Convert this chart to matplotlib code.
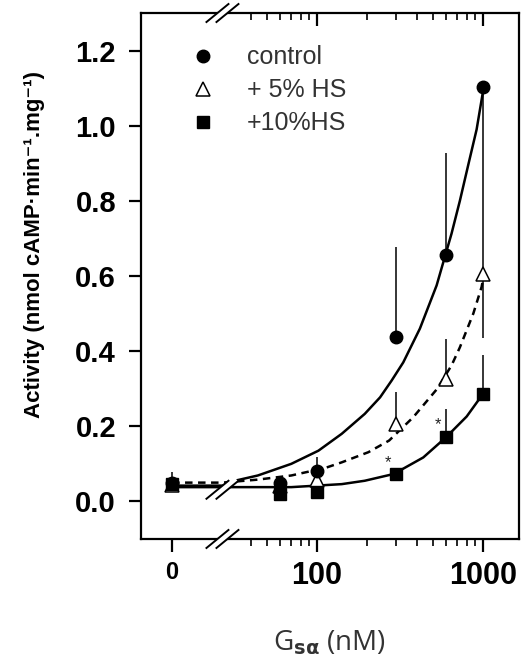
import numpy as np
import matplotlib.pyplot as plt
from matplotlib.lines import Line2D
from matplotlib.transforms import ScaledTranslation, blended_transform_factory

plt.rcParams['font.family'] = ['Liberation Sans', 'DejaVu Sans']

# measured points (Gs-alpha in nM)
conc = [0, 60, 100, 300, 600, 1000]
control = [0.05, 0.05, 0.082, 0.437, 0.657, 1.103]
control_up = [0.027, 0, 0.035, 0.24, 0.27, 0]
control_down = [0, 0, 0, 0, 0, 0.49]
hs5 = [0.045, 0.04, 0.058, 0.206, 0.326, 0.606]
hs5_up = [0, 0, 0, 0.085, 0.107, 0]
hs5_down = [0, 0, 0, 0, 0, 0.17]
hs10 = [0.047, 0.02, 0.024, 0.073, 0.171, 0.286]
hs10_up = [0, 0, 0, 0, 0.075, 0.103]

# fitted curves
fit_control_x = [0, 26, 32, 44, 70, 102, 141, 194, 240, 282, 331, 417, 526, 647, 726, 815, 916, 1000]
fit_control_y = [0.042, 0.042, 0.055, 0.069, 0.100, 0.135, 0.18, 0.233, 0.277, 0.322, 0.37, 0.46,
                 0.575, 0.713, 0.80, 0.895, 0.99, 1.09]
fit_hs5_x = [0, 26, 44, 70, 112, 141, 204, 272, 380, 526, 647, 726, 875, 982, 1000]
fit_hs5_y = [0.05, 0.05, 0.058, 0.069, 0.089, 0.104, 0.131, 0.162, 0.224, 0.298, 0.362, 0.41,
             0.50, 0.571, 0.59]
fit_hs10_x = [0, 26, 32, 70, 141, 194, 290, 437, 600, 798, 1000]
fit_hs10_y = [0.038, 0.038, 0.038, 0.038, 0.046, 0.055, 0.073, 0.117, 0.171, 0.226, 0.286]

# significance marks
star_x = [268, 536]
star_y = [0.103, 0.205]

xticks = [0, 100, 1000]
xtick_labels = ['0', '100', '1000']
xminor = [40, 50, 60, 70, 80, 90, 200, 300, 400, 500, 600, 700, 800, 900]
yticks = [0.0, 0.2, 0.4, 0.6, 0.8, 1.0, 1.2]

# broken x axis: linear from 0 to 30, log above
BRK = 30.0
U0 = 1.1265
SLOPE = (np.log10(BRK) - U0) / BRK


def fwd(x):
    x = np.asarray(x, dtype=float)
    lg = np.log10(np.clip(x, BRK, None))
    return np.where(x < BRK, U0 + x * SLOPE, lg)


def inv(u):
    u = np.asarray(u, dtype=float)
    return np.where(u < np.log10(BRK), (u - U0) / SLOPE, 10 ** np.clip(u, np.log10(BRK), None))


fig = plt.figure(figsize=(5.24, 6.61), dpi=100)
ax = fig.add_axes([0.2691, 0.1846, 0.7214, 0.7957])
ax.set_xscale('function', functions=(fwd, inv))
ax.set_xlim(-16, 1650)
ax.set_ylim(-0.1, 1.3)

lw_fit = 1.8
ax.plot(fit_control_x, fit_control_y, color='black', lw=lw_fit, zorder=2)
ax.plot(fit_hs5_x, fit_hs5_y, color='black', lw=lw_fit, dashes=(3, 2.2), zorder=2)
ax.plot(fit_hs10_x, fit_hs10_y, color='black', lw=lw_fit, zorder=2)

eb = dict(fmt='none', ecolor='black', elinewidth=1.1, capsize=0, zorder=1)
ax.errorbar(conc, control, yerr=[control_down, control_up], **eb)
ax.errorbar(conc, hs5, yerr=[hs5_down, hs5_up], **eb)
ax.errorbar(conc, hs10, yerr=[[0] * len(conc), hs10_up], **eb)

ms = 9
ax.plot(conc, hs5, '^', mfc='white', mec='black', mew=1.1, ms=ms + 1, zorder=3)
ax.plot(conc, hs10, 's', color='black', ms=ms - 0.5, zorder=4)
ax.plot(conc, control, 'o', color='black', ms=ms, zorder=5)

for sx, sy in zip(star_x, star_y):
    ax.text(sx, sy, '*', ha='center', va='center', fontsize=12, color='#222222')

# axes styling
for s in ax.spines.values():
    s.set_linewidth(1.6)
ax.set_yticks(yticks)
ax.set_yticklabels([f'{v:.1f}' for v in yticks])
ax.set_xticks(xticks)
ax.set_xticklabels(xtick_labels)
ax.set_xticks(xminor, minor=True)
ax.tick_params(axis='y', direction='out', length=9, width=1.6, pad=9, labelsize=21)
ax.tick_params(axis='x', which='major', direction='out', length=9, width=1.6, pad=7, labelsize=22)
ax.tick_params(axis='x', which='minor', direction='out', length=5, width=1.2)
for lab in ax.get_yticklabels() + ax.get_xticklabels():
    lab.set_fontweight('bold')
ax.get_xticklabels()[0].set_fontsize(17)

# inward ticks on the top spine (log part only)
top = ax.twiny()
top.set_xscale('function', functions=(fwd, inv))
top.set_xlim(ax.get_xlim())
top.set_xticks([100, 1000])
top.set_xticks(xminor, minor=True)
top.tick_params(axis='x', which='both', direction='in', labeltop=False, top=True, bottom=False)
top.tick_params(axis='x', which='major', length=9, width=1.6)
top.tick_params(axis='x', which='minor', length=5, width=1.2)
for s in top.spines.values():
    s.set_visible(False)


# axis break marks "//"
def break_mark(xd, yd, trans):
    anchor = fig.dpi_scale_trans + ScaledTranslation(xd, yd, trans)
    fig.add_artist(Line2D([-0.11, 0.11], [-0.09, 0.09], color='white', lw=4.5,
                          transform=anchor, zorder=10))
    for off in (-0.05, 0.05):
        fig.add_artist(Line2D([-0.11 + off, 0.11 + off], [-0.09, 0.09], color='black', lw=1.4,
                              transform=anchor, zorder=11))


xfrac = blended_transform_factory(ax.transData, ax.transAxes)
break_mark(26, 0, xfrac)
break_mark(26, 1, xfrac)
break_mark(26, 0.031, ax.transData)

# legend
handles = [
    Line2D([], [], ls='none', marker='o', color='black', ms=ms),
    Line2D([], [], ls='none', marker='^', mfc='white', mec='black', mew=1.1, ms=ms + 1),
    Line2D([], [], ls='none', marker='s', color='black', ms=ms - 0.5),
]
leg = ax.legend(handles, ['control', '+ 5% HS', '+10%HS'], loc='upper left',
                bbox_to_anchor=(0.131, 0.9386), frameon=False, fontsize=18, borderpad=0,
                borderaxespad=0, handlelength=1.0, handletextpad=1.26, labelspacing=0.36)
for t in leg.get_texts():
    t.set_color('#333333')

fig.text(35 / 524, 1 - 244 / 661, 'Activity (nmol cAMP·min⁻¹.mg⁻¹)', rotation=90,
         ha='center', va='center', fontsize=16, fontweight='bold')
fig.text(329.5 / 524, 1 - 643 / 661, r'G$_{\mathbf{s\alpha}}$ (nM)', ha='center', va='center',
         fontsize=20, color='#333333', family=['Open Sans', 'DejaVu Sans'])

fig.savefig('out.png', dpi=100)
